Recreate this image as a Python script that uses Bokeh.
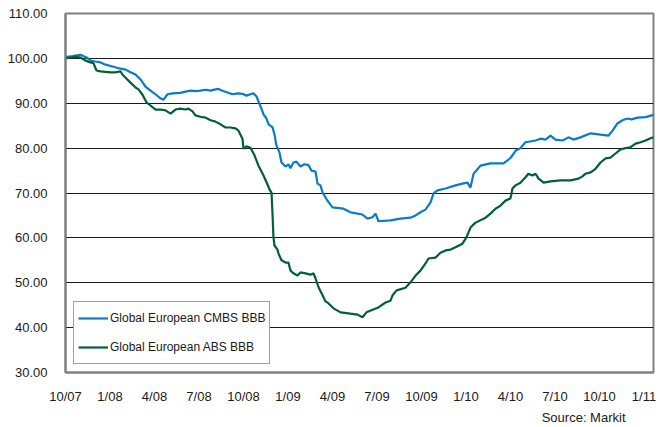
from bokeh.plotting import figure
from bokeh.models import FixedTicker, PrintfTickFormatter, Legend, LegendItem, Title, ColumnDataSource
from bokeh.embed import file_html
from bokeh.resources import INLINE

# x = months since October 2007
cmbs_month = [0.00, 0.47, 1.01, 1.42, 1.69, 2.02, 2.36, 2.70, 3.17, 3.71, 4.05, 4.38, 4.72, 5.06, 5.39,
              5.73, 6.07, 6.40, 6.61, 6.88, 7.21, 7.75, 8.09, 8.43, 8.76, 9.10, 9.44, 9.78, 10.11, 10.31,
              10.58, 10.92, 11.26, 11.60, 11.93, 12.20, 12.47, 12.67, 12.88, 13.01, 13.21, 13.35, 13.55,
              13.69, 13.96, 14.09, 14.22, 14.43, 14.56, 14.83, 15.03, 15.17, 15.37, 15.57, 15.84, 16.11,
              16.38, 16.58, 16.85, 16.99, 17.19, 17.33, 17.60, 18.00, 18.74, 19.21, 19.69, 20.02, 20.36,
              20.70, 20.90, 21.10, 21.91, 22.58, 23.26, 23.60, 23.93, 24.27, 24.61, 24.81, 25.08, 25.62,
              26.29, 26.76, 27.10, 27.30, 27.51, 27.98, 28.65, 29.12, 29.53, 30.00, 30.34, 30.67, 31.01,
              31.69, 32.02, 32.36, 32.70, 33.03, 33.51, 33.91, 34.25, 34.72, 35.40, 36.07, 36.61, 36.88,
              37.21, 37.55, 37.89, 38.16, 38.56, 39.10, 39.64]
cmbs_value = [100.3, 100.5, 100.8, 100.2, 99.5, 99.3, 99.1, 98.6, 98.2, 97.7, 97.5, 96.9, 96.4, 95.3, 93.7,
              92.8, 92.0, 91.1, 90.8, 92.0, 92.2, 92.3, 92.6, 92.8, 92.7, 92.8, 93.0, 92.8, 93.1, 93.2,
              92.8, 92.4, 92.0, 92.2, 92.1, 91.7, 92.0, 92.2, 91.5, 90.4, 88.8, 87.5, 86.6,
              85.3, 84.6, 83.0, 80.6, 79.0, 76.8, 75.9, 76.4, 75.5, 76.8, 77.0, 75.9, 76.4,
              76.2, 75.0, 74.8, 72.1, 71.7, 70.1, 68.6, 66.8, 66.5, 65.7, 65.4, 65.2, 64.3,
              64.6, 65.4, 63.7, 63.9, 64.3, 64.5, 65.0, 65.7, 66.3, 67.9, 69.9, 70.6, 71.0,
              71.7, 72.1, 72.3, 71.2, 74.3, 76.1, 76.6, 76.6, 76.6, 77.8, 79.4, 80.0, 81.3,
              81.7, 82.1, 81.9, 82.8, 81.9, 81.7, 82.4, 81.9, 82.4, 83.3, 83.0, 82.8, 83.9,
              85.5, 86.2, 86.6, 86.4, 86.8, 86.9, 87.4]

abs_month = [0.00, 0.34, 0.67, 1.01, 1.35, 1.69, 1.89, 2.09, 2.36, 3.03, 3.37, 3.71, 3.84, 4.05, 4.38,
             4.72, 4.92, 5.19, 5.46, 5.73, 6.07, 6.40, 6.74, 7.08, 7.42, 7.75, 8.09, 8.29, 8.56, 8.76,
             9.10, 9.44, 9.78, 10.11, 10.45, 10.79, 11.12, 11.46, 11.66, 11.93, 12.00, 12.20, 12.47,
             12.74, 13.01, 13.35, 13.62, 13.75, 13.89, 13.96, 14.02, 14.09, 14.29, 14.36, 14.56, 14.83,
             15.03, 15.17, 15.37, 15.64, 15.84, 16.18, 16.52, 16.72, 16.85, 17.06, 17.33, 17.53, 17.66,
             18.07, 18.54, 19.21, 19.69, 20.02, 20.29, 20.70, 21.10, 21.57, 21.91, 22.05, 22.32, 22.92,
             23.26, 23.60, 23.93, 24.27, 24.47, 24.94, 25.28, 25.62, 25.96, 26.29, 26.76, 27.03, 27.30,
             27.64, 28.32, 28.65, 28.99, 29.33, 29.66, 30.00, 30.13, 30.34, 30.67, 31.01, 31.21, 31.48,
             31.69, 31.89, 32.23, 32.70, 33.37, 34.05, 34.58, 34.85, 35.06, 35.40, 35.73, 36.07, 36.41,
             36.74, 37.08, 37.42, 37.75, 38.09, 38.43, 38.77, 39.10, 39.44, 39.64]
abs_value = [100.0, 100.2, 100.4, 100.2, 99.5, 99.1, 98.9, 97.3, 97.1, 96.9, 96.9, 97.1, 96.4, 95.7, 94.6,
             93.5, 93.1, 91.9, 90.2, 89.5, 88.6, 88.6, 88.4, 87.7, 88.6, 88.8, 88.6, 88.8, 88.2, 87.3,
             87.0, 86.8, 86.2, 85.9, 85.3, 84.6, 84.6, 84.4, 83.9, 82.1, 79.9, 80.4, 80.1,
             78.4, 76.1, 73.9, 71.9, 70.8, 70.1, 65.0, 60.1, 58.3, 57.4, 56.5, 55.0, 54.5,
             54.5, 52.7, 52.1, 51.6, 52.3, 52.1, 51.8, 52.1, 51.0, 49.0, 47.2, 45.8, 45.6,
             44.3, 43.4, 43.1, 42.9, 42.3, 43.4, 44.0, 44.5, 45.6, 46.0, 47.2, 48.3, 48.9,
             50.1, 51.6, 52.7, 54.3, 55.4, 55.6, 56.7, 57.2, 57.4, 57.9, 58.7, 60.1, 62.3,
             63.4, 64.5, 65.4, 66.5, 67.2, 68.3, 68.8, 71.0, 71.7, 72.3, 73.5, 74.3, 73.9,
             74.3, 73.2, 72.3, 72.6, 72.8, 72.8, 73.2, 73.7, 74.3, 74.6, 75.4, 76.8, 77.7,
             77.9, 78.8, 79.7, 80.0, 80.2, 81.0, 81.3, 81.7, 82.2, 82.4]

tick_months = [0, 3, 6, 9, 12, 15, 18, 21, 24, 27, 30, 33, 36, 39]
tick_labels = ["10/07", "1/08", "4/08", "7/08", "10/08", "1/09", "4/09", "7/09",
               "10/09", "1/10", "4/10", "7/10", "10/10", "1/11"]
y_ticks = [30, 40, 50, 60, 70, 80, 90, 100, 110]

series_names = ["Global European CMBS BBB", "Global European ABS BBB"]
source_text = "Source: Markit"

FONT = "Liberation Sans"
FS = "13px"
BLUE = "#0A7ACB"
GREEN = "#005E38"

p = figure(width=668, height=427, output_backend="svg", toolbar_location=None,
           x_range=(0, 39.64), y_range=(30, 110),
           min_border_left=65, min_border_right=15, min_border_top=13, min_border_bottom=55)
p.background_fill_color = "white"
p.border_fill_color = "white"
p.outline_line_color = "#808080"
p.outline_line_width = 2

p.xaxis.ticker = FixedTicker(ticks=tick_months)
p.xaxis.major_label_overrides = {t: l for t, l in zip(tick_months, tick_labels)}
p.yaxis.ticker = FixedTicker(ticks=y_ticks)
p.yaxis.formatter = PrintfTickFormatter(format="%.2f")

for ax in (p.xaxis[0], p.yaxis[0]):
    ax.axis_line_color = "#808080"
    ax.axis_line_width = 2
    ax.major_tick_line_color = None
    ax.minor_tick_line_color = None
    ax.major_label_text_font = FONT
    ax.major_label_text_font_size = FS
    ax.major_label_text_color = "#1a1a1a"
p.yaxis.major_label_standoff = 12
p.xaxis.major_label_standoff = 10

p.xgrid.grid_line_color = None
p.ygrid.ticker = FixedTicker(ticks=[40, 50, 60, 70, 80, 90, 100, 110])
p.ygrid.grid_line_color = "#1a1a1a"
p.ygrid.grid_line_width = 1

src_c = ColumnDataSource(dict(x=cmbs_month, y=cmbs_value))
src_a = ColumnDataSource(dict(x=abs_month, y=abs_value))
r_c = p.line("x", "y", source=src_c, line_color=BLUE, line_width=2.2)
r_a = p.line("x", "y", source=src_a, line_color=GREEN, line_width=2.2)

legend = Legend(items=[LegendItem(label=series_names[0], renderers=[r_c]),
                       LegendItem(label=series_names[1], renderers=[r_a])],
                location=(8, 8), orientation="vertical")
legend.label_text_font = FONT
legend.label_text_font_size = "12px"
legend.label_text_color = "#1a1a1a"
legend.glyph_width = 30
legend.glyph_height = 24
legend.label_height = 24
legend.label_standoff = 2
legend.spacing = 5
legend.padding = 4
legend.margin = 0
legend.border_line_color = "#404040"
legend.border_line_width = 1
legend.background_fill_color = "white"
legend.background_fill_alpha = 1
p.add_layout(legend, "center")

src_title = Title(text=source_text, align="right", offset=28, standoff=2,
                  text_font=FONT, text_font_size=FS, text_font_style="normal",
                  text_color="#1a1a1a")
p.add_layout(src_title, "below")

open("out.html", "w").write(file_html(p, INLINE))
